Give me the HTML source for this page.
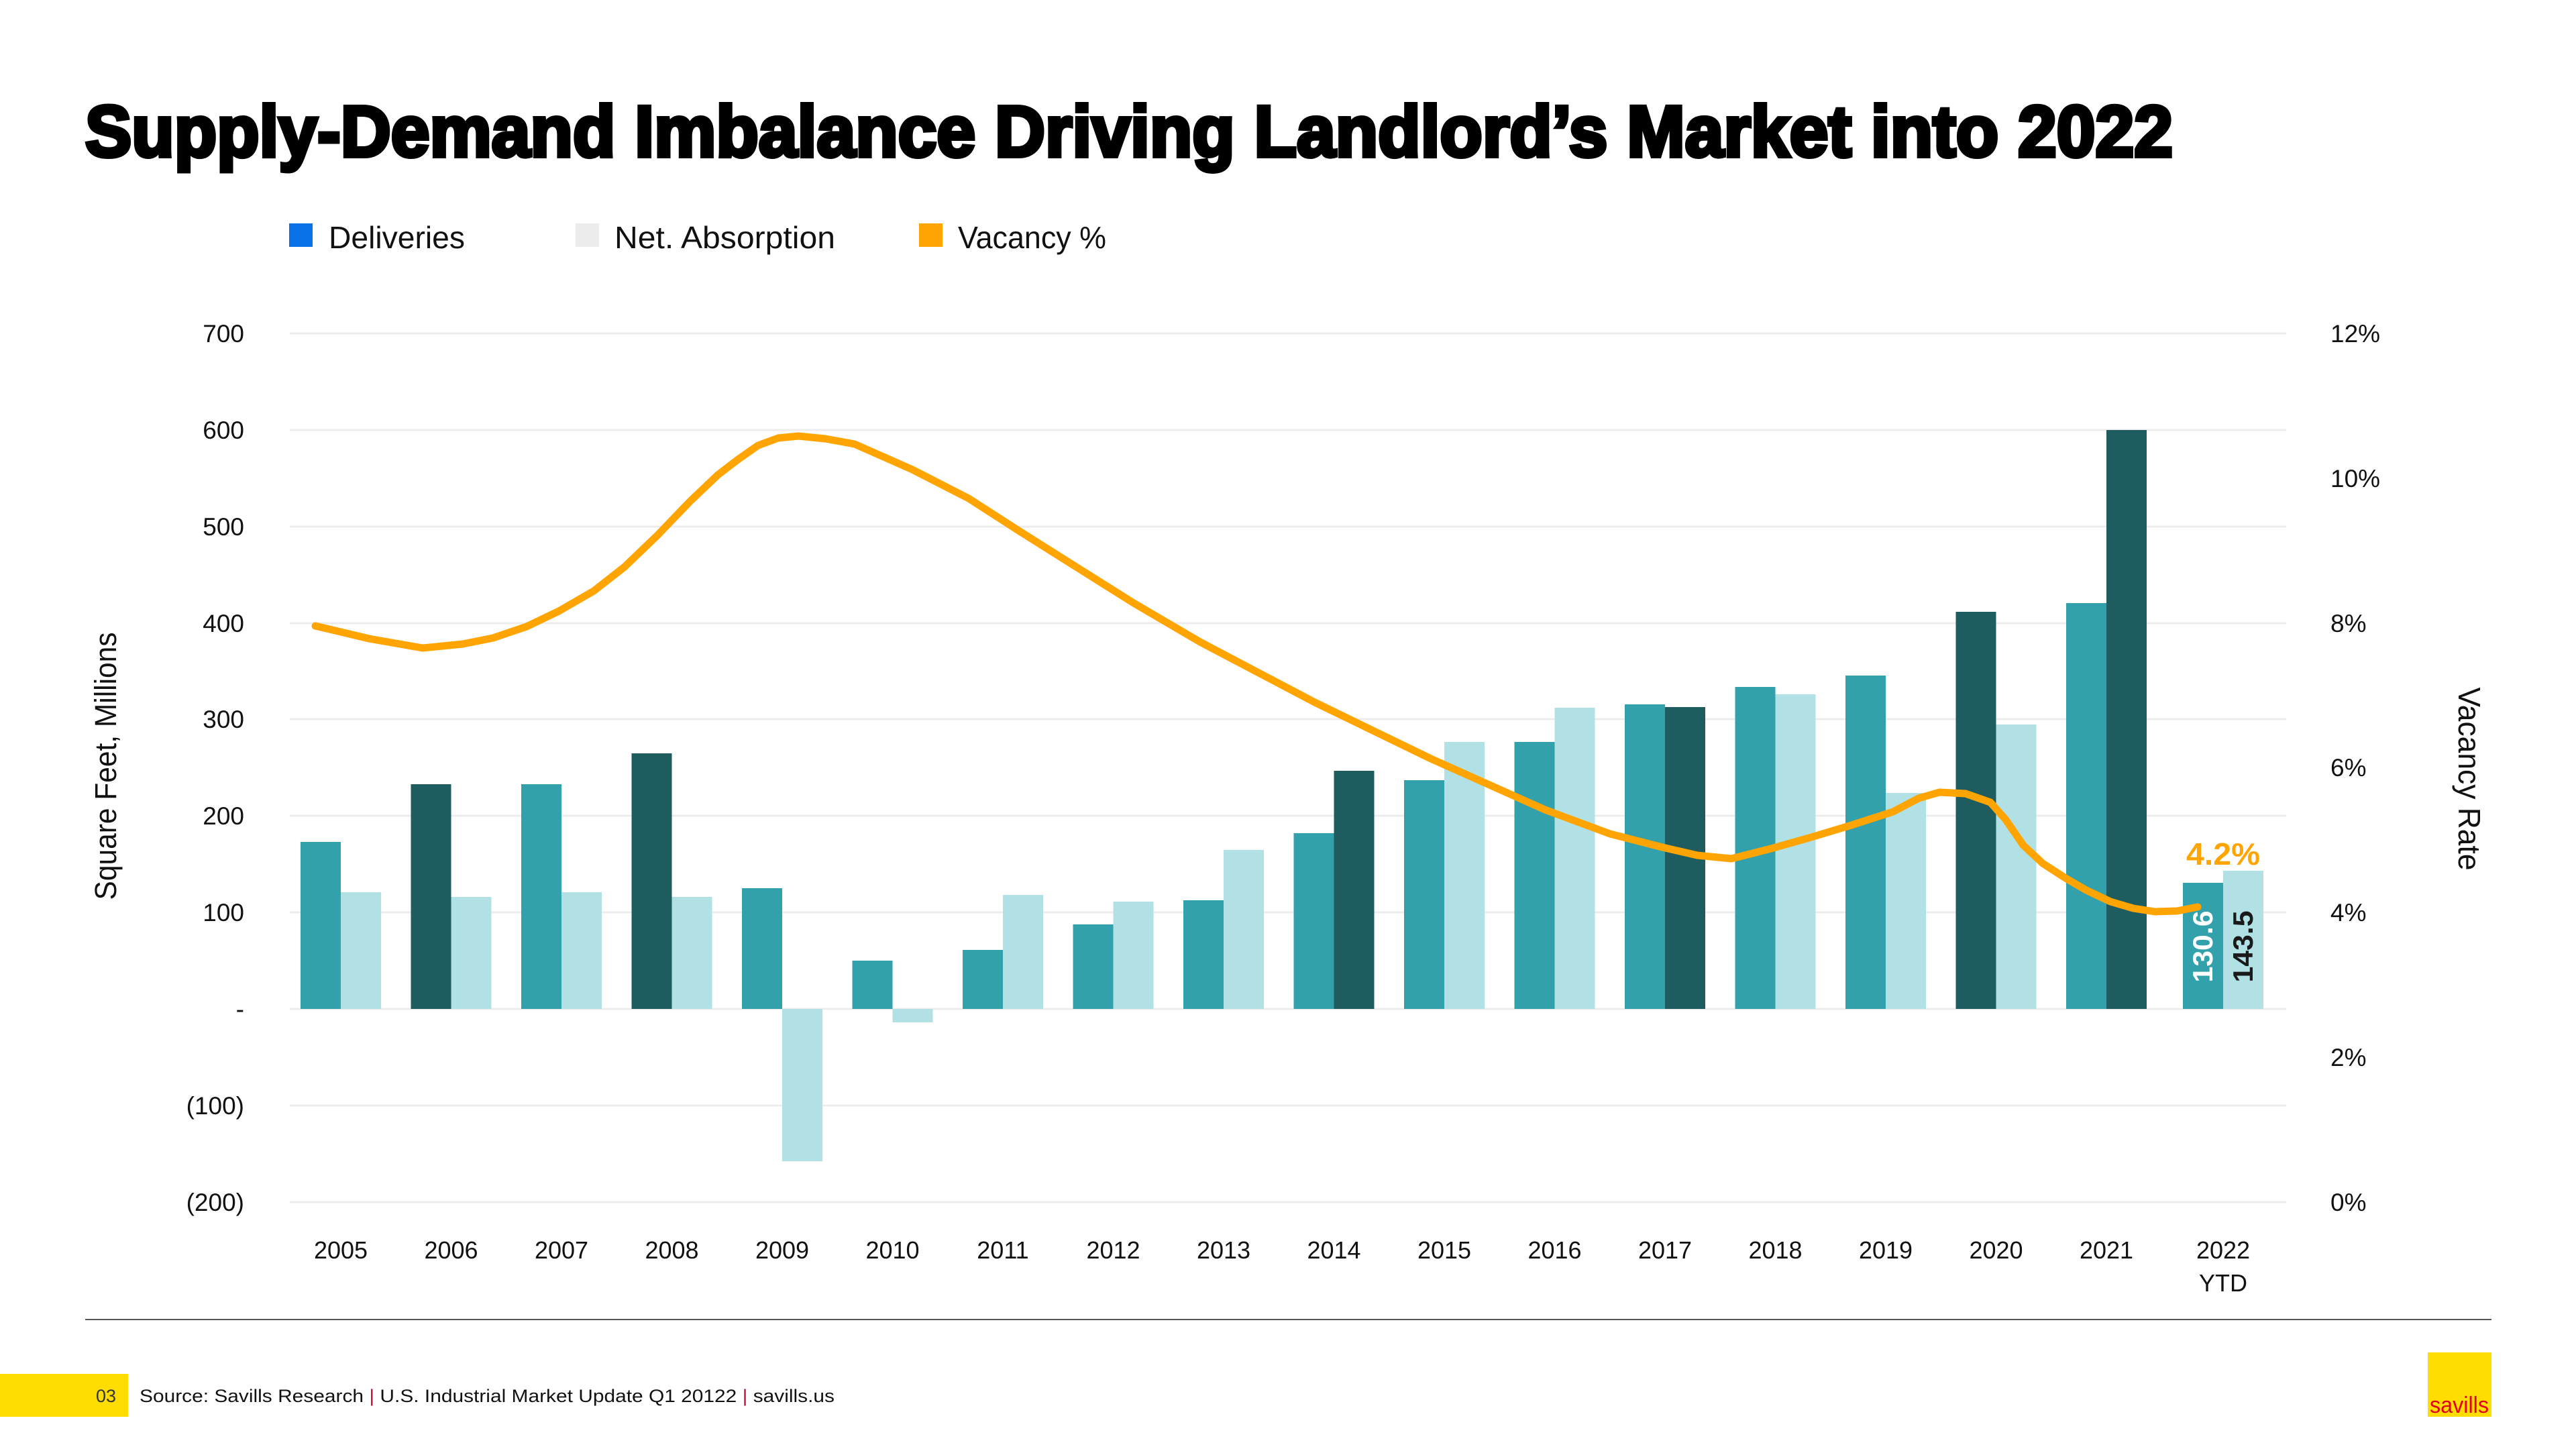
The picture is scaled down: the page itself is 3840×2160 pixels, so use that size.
<!DOCTYPE html>
<html><head><meta charset="utf-8"><style>
html,body{margin:0;padding:0;background:#fff;}
svg{display:block;}
text{font-family:"Liberation Sans",sans-serif;}
</style></head><body>
<svg width="3840" height="2160" viewBox="0 0 3840 2160" xmlns="http://www.w3.org/2000/svg">
<rect width="3840" height="2160" fill="#fff"/>
<text x="127" y="233" font-size="108" font-weight="bold" fill="#000" stroke="#000" stroke-width="6" textLength="3112" lengthAdjust="spacingAndGlyphs">Supply-Demand Imbalance Driving Landlord’s Market into 2022</text>

<rect x="431" y="333" width="35" height="35" fill="#0a72e8"/>
<text x="490" y="370" font-size="46" fill="#111" textLength="203" lengthAdjust="spacingAndGlyphs">Deliveries</text>
<rect x="858" y="333" width="35" height="35" fill="#ececec"/>
<text x="916" y="370" font-size="46" fill="#111" textLength="329" lengthAdjust="spacingAndGlyphs">Net. Absorption</text>
<rect x="1370" y="333" width="35" height="35" fill="#ffa400"/>
<text x="1428" y="370" font-size="46" fill="#111" textLength="221" lengthAdjust="spacingAndGlyphs">Vacancy %</text>

<g stroke="#ececec" stroke-width="3">
<line x1="432" y1="497" x2="3408" y2="497"/>
<line x1="432" y1="641" x2="3408" y2="641"/>
<line x1="432" y1="785" x2="3408" y2="785"/>
<line x1="432" y1="929" x2="3408" y2="929"/>
<line x1="432" y1="1072" x2="3408" y2="1072"/>
<line x1="432" y1="1216" x2="3408" y2="1216"/>
<line x1="432" y1="1360" x2="3408" y2="1360"/>
<line x1="432" y1="1504" x2="3408" y2="1504"/>
<line x1="432" y1="1648" x2="3408" y2="1648"/>
<line x1="432" y1="1792" x2="3408" y2="1792"/>
</g>

<g font-size="37" fill="#111" text-anchor="end">
<text x="364" y="510">700</text>
<text x="364" y="654">600</text>
<text x="364" y="798">500</text>
<text x="364" y="942">400</text>
<text x="364" y="1085">300</text>
<text x="364" y="1229">200</text>
<text x="364" y="1373">100</text>
<text x="364" y="1517">-</text>
<text x="364" y="1661">(100)</text>
<text x="364" y="1805">(200)</text>
</g>
<g font-size="37" fill="#111">
<text x="3474" y="510">12%</text>
<text x="3474" y="726">10%</text>
<text x="3474" y="942">8%</text>
<text x="3474" y="1157">6%</text>
<text x="3474" y="1373">4%</text>
<text x="3474" y="1589">2%</text>
<text x="3474" y="1805">0%</text>
</g>

<text transform="translate(173,1142) rotate(-90)" font-size="45" fill="#111" text-anchor="middle" textLength="399" lengthAdjust="spacingAndGlyphs">Square Feet, Millions</text>
<text transform="translate(3665,1161) rotate(90)" font-size="46" fill="#111" text-anchor="middle" textLength="273" lengthAdjust="spacingAndGlyphs">Vacancy Rate</text>

<g>
<rect x="448" y="1255" width="60" height="249" fill="#33a1ab"/><rect x="508" y="1330" width="60" height="174" fill="#b1e1e5"/>
<rect x="612.5" y="1169" width="60" height="335" fill="#1f5c60"/><rect x="672.5" y="1337" width="60" height="167" fill="#b1e1e5"/>
<rect x="777" y="1169" width="60" height="335" fill="#33a1ab"/><rect x="837" y="1330" width="60" height="174" fill="#b1e1e5"/>
<rect x="941.5" y="1123" width="60" height="381" fill="#1f5c60"/><rect x="1001.5" y="1337" width="60" height="167" fill="#b1e1e5"/>
<rect x="1106" y="1324" width="60" height="180" fill="#33a1ab"/><rect x="1166" y="1504" width="60" height="227" fill="#b1e1e5"/>
<rect x="1270.5" y="1432" width="60" height="72" fill="#33a1ab"/><rect x="1330.5" y="1504" width="60" height="20" fill="#b1e1e5"/>
<rect x="1435" y="1416" width="60" height="88" fill="#33a1ab"/><rect x="1495" y="1334" width="60" height="170" fill="#b1e1e5"/>
<rect x="1599.5" y="1378" width="60" height="126" fill="#33a1ab"/><rect x="1659.5" y="1344" width="60" height="160" fill="#b1e1e5"/>
<rect x="1764" y="1342" width="60" height="162" fill="#33a1ab"/><rect x="1824" y="1267" width="60" height="237" fill="#b1e1e5"/>
<rect x="1928.5" y="1242" width="60" height="262" fill="#33a1ab"/><rect x="1988.5" y="1149" width="60" height="355" fill="#1f5c60"/>
<rect x="2093" y="1163" width="60" height="341" fill="#33a1ab"/><rect x="2153" y="1106" width="60" height="398" fill="#b1e1e5"/>
<rect x="2257.5" y="1106" width="60" height="398" fill="#33a1ab"/><rect x="2317.5" y="1055" width="60" height="449" fill="#b1e1e5"/>
<rect x="2422" y="1050" width="60" height="454" fill="#33a1ab"/><rect x="2482" y="1054" width="60" height="450" fill="#1f5c60"/>
<rect x="2586.5" y="1024" width="60" height="480" fill="#33a1ab"/><rect x="2646.5" y="1035" width="60" height="469" fill="#b1e1e5"/>
<rect x="2751" y="1007" width="60" height="497" fill="#33a1ab"/><rect x="2811" y="1182" width="60" height="322" fill="#b1e1e5"/>
<rect x="2915.5" y="912" width="60" height="592" fill="#1f5c60"/><rect x="2975.5" y="1080" width="60" height="424" fill="#b1e1e5"/>
<rect x="3080" y="899" width="60" height="605" fill="#33a1ab"/><rect x="3140" y="641" width="60" height="863" fill="#1f5c60"/>
<rect x="3254" y="1316" width="60" height="188" fill="#33a1ab"/><rect x="3314" y="1298" width="60" height="206" fill="#b1e1e5"/>
</g>

<polyline fill="none" stroke="#ffa400" stroke-width="11" stroke-linejoin="round" stroke-linecap="round"
points="470,933 550,952 630,966 690,960 735,951 785,934 833,911 885,881 931,845 980,798 1029,747 1070,708 1100,685 1130,664 1160,653 1190,650 1230,654 1274,662 1360,700 1444,743 1520,792 1593,838 1690,899 1789,957 1960,1047 2133,1131 2303,1207 2400,1243 2478,1263 2530,1275 2581,1280 2640,1265 2700,1248 2760,1230 2822,1210 2860,1190 2891,1181 2930,1183 2967,1196 2990,1222 3016,1260 3045,1287 3079,1309 3110,1327 3146,1344 3180,1354 3212,1359 3245,1358 3276,1352"/>

<text x="3314" y="1289" font-size="46" font-weight="bold" fill="#ffa400" text-anchor="middle" textLength="110" lengthAdjust="spacingAndGlyphs">4.2%</text>
<text transform="translate(3298,1411) rotate(-90)" font-size="42" font-weight="bold" fill="#fff" text-anchor="middle" textLength="107" lengthAdjust="spacingAndGlyphs">130.6</text>
<text transform="translate(3358,1411) rotate(-90)" font-size="42" font-weight="bold" fill="#1a1a1a" text-anchor="middle" textLength="107" lengthAdjust="spacingAndGlyphs">143.5</text>

<g font-size="36" fill="#111" text-anchor="middle">
<text x="508" y="1876">2005</text>
<text x="672.5" y="1876">2006</text>
<text x="837" y="1876">2007</text>
<text x="1001.5" y="1876">2008</text>
<text x="1166" y="1876">2009</text>
<text x="1330.5" y="1876">2010</text>
<text x="1495" y="1876">2011</text>
<text x="1659.5" y="1876">2012</text>
<text x="1824" y="1876">2013</text>
<text x="1988.5" y="1876">2014</text>
<text x="2153" y="1876">2015</text>
<text x="2317.5" y="1876">2016</text>
<text x="2482" y="1876">2017</text>
<text x="2646.5" y="1876">2018</text>
<text x="2811" y="1876">2019</text>
<text x="2975.5" y="1876">2020</text>
<text x="3140" y="1876">2021</text>
<text x="3314" y="1876">2022</text>
<text x="3314" y="1925">YTD</text>
</g>

<line x1="127" y1="1967" x2="3714" y2="1967" stroke="#555" stroke-width="2"/>
<rect x="0" y="2048" width="191" height="64" fill="#ffdd00"/>
<text x="143" y="2090" font-size="27" fill="#333">03</text>
<text x="208" y="2090" font-size="27" fill="#111" textLength="1036" lengthAdjust="spacingAndGlyphs">Source: Savills Research <tspan fill="#c8102e">|</tspan> U.S. Industrial Market Update Q1 20122 <tspan fill="#c8102e">|</tspan> savills.us</text>

<rect x="3619" y="2016" width="95" height="96" fill="#ffdd00"/>
<text x="3666" y="2106" font-size="34" fill="#e2001a" text-anchor="middle" textLength="88" lengthAdjust="spacingAndGlyphs">savills</text>
</svg>
</body></html>
